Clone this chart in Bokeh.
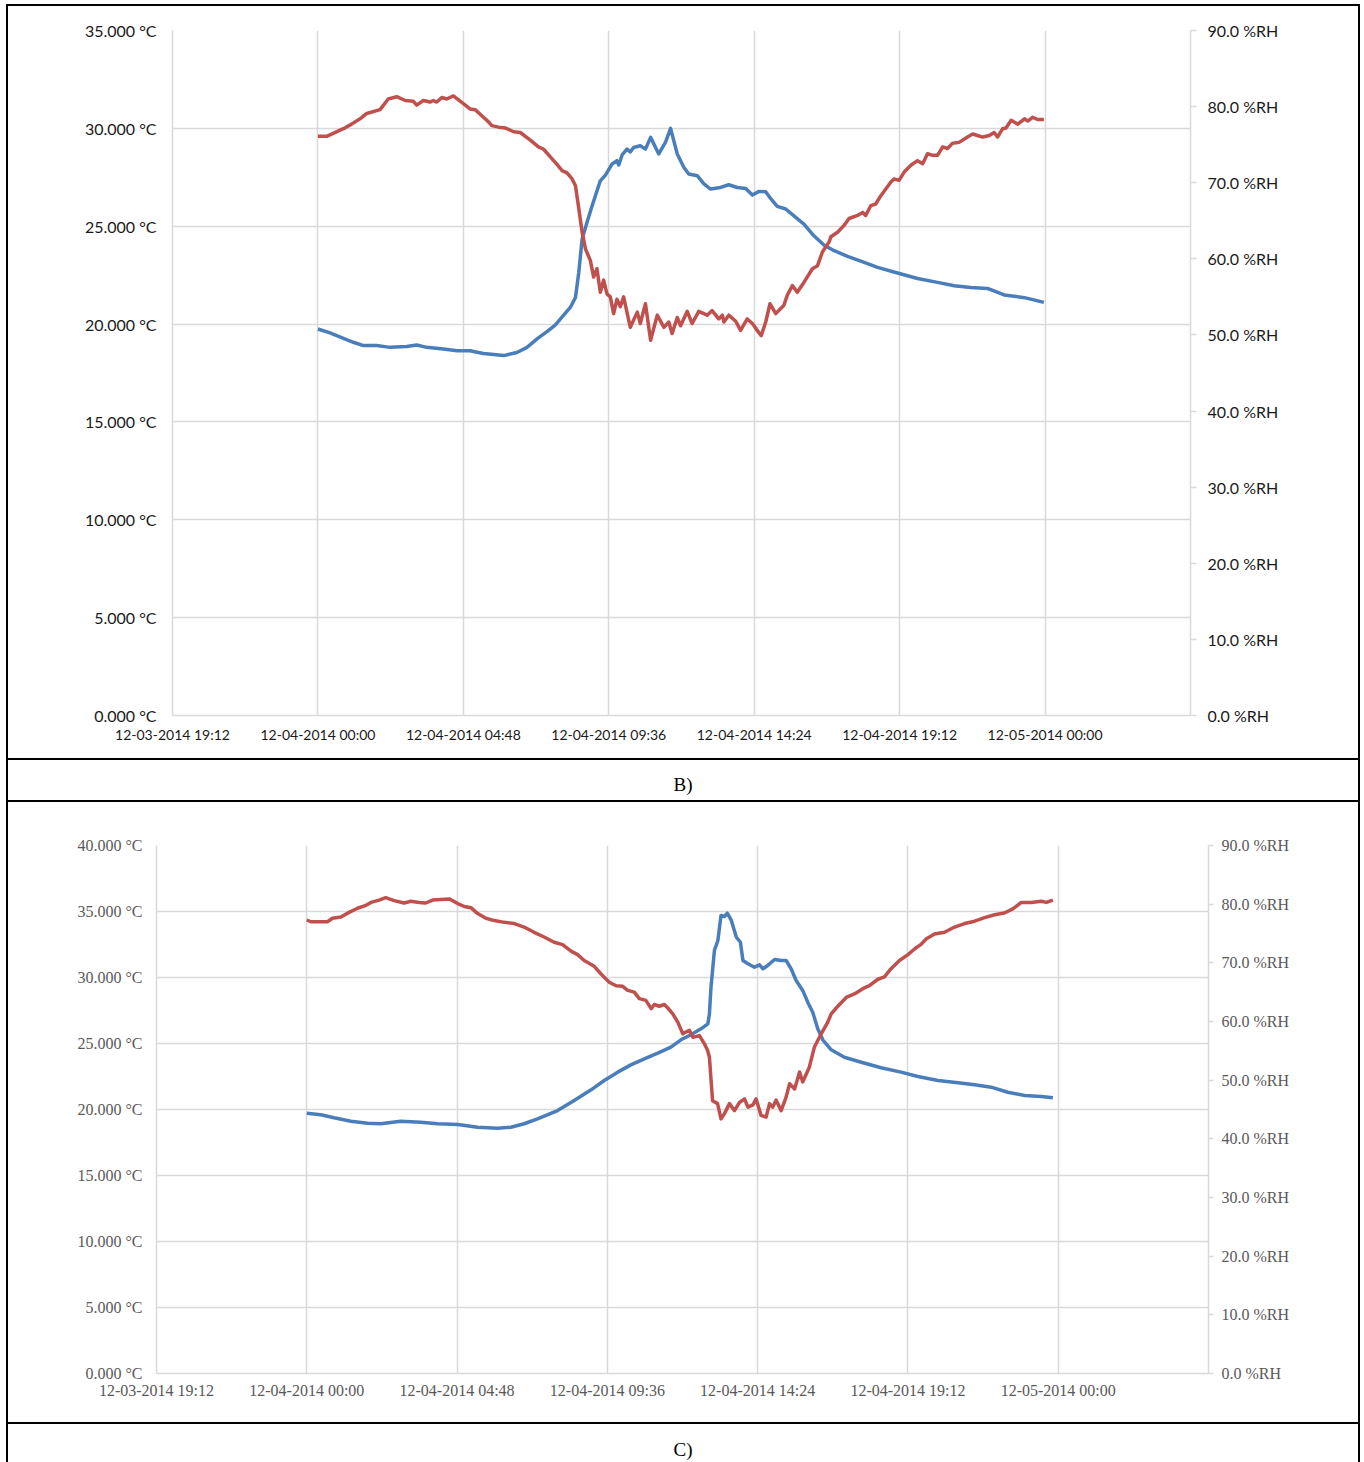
from bokeh.plotting import figure
from bokeh.models import (Range1d, LinearAxis, FixedTicker, PrintfTickFormatter, Grid, Div)
from bokeh.layouts import column, row
from bokeh.embed import file_html
from bokeh.resources import INLINE

# ---------------- data ----------------
X_TICKS = [-4.8, 0, 4.8, 9.6, 14.4, 19.2, 24, 28.8]
X_LABELS = ["12-03-2014 19:12", "12-04-2014 00:00", "12-04-2014 04:48", "12-04-2014 09:36",
            "12-04-2014 14:24", "12-04-2014 19:12", "12-05-2014 00:00", ""]
B_TEMP_TICKS = [0, 5, 10, 15, 20, 25, 30, 35]
C_TEMP_TICKS = [0, 5, 10, 15, 20, 25, 30, 35, 40]
RH_TICKS = [0, 10, 20, 30, 40, 50, 60, 70, 80, 90]

# Chart B - temperature (hours, degC)
B_TEMP_H = [0.00, 0.40, 0.84, 1.17, 1.50, 1.94, 2.38, 2.93, 3.26, 3.59, 4.14, 4.59, 5.02, 5.46, 5.80,
            6.13, 6.57, 6.90, 7.23, 7.56, 7.83, 8.11, 8.33, 8.50, 8.61, 8.72, 8.88, 9.05, 9.32, 9.49,
            9.71, 9.87, 9.93, 10.04, 10.20, 10.31, 10.42, 10.64, 10.81, 10.98, 11.25, 11.47, 11.64,
            11.86, 12.08, 12.24, 12.52, 12.74, 12.96, 13.29, 13.56, 13.84, 14.12, 14.34, 14.56, 14.78,
            14.94, 15.16, 15.44, 15.77, 16.04, 16.37, 16.70, 17.04, 17.48, 18.03, 18.47, 19.13, 19.79,
            20.45, 21.00, 21.55, 22.10, 22.65, 23.32, 23.96]
B_TEMP = [19.75, 19.55, 19.27, 19.07, 18.90, 18.90, 18.81, 18.85, 18.93, 18.81, 18.73, 18.64, 18.64,
          18.50, 18.44, 18.39, 18.55, 18.81, 19.24, 19.61, 19.95, 20.46, 20.85, 21.36, 22.64, 24.35,
          25.19, 26.05, 27.32, 27.61, 28.18, 28.35, 28.13, 28.64, 28.94, 28.80, 29.02, 29.11, 28.94,
          29.54, 28.69, 29.28, 30.00, 28.69, 28.00, 27.67, 27.58, 27.16, 26.90, 26.98, 27.12, 26.98,
          26.93, 26.59, 26.78, 26.76, 26.42, 26.01, 25.88, 25.45, 25.11, 24.51, 24.04, 23.75, 23.46,
          23.15, 22.90, 22.61, 22.33, 22.13, 21.96, 21.87, 21.82, 21.49, 21.35, 21.11]

# Chart B - relative humidity (hours, %RH)
B_RH_H = [0.00, 0.29, 0.84, 1.11, 1.39, 1.61, 2.05, 2.32, 2.60, 2.88, 3.15, 3.26, 3.48, 3.70, 3.81,
          3.92, 4.09, 4.25, 4.47, 4.80, 5.02, 5.19, 5.41, 5.63, 5.74, 5.96, 6.18, 6.46, 6.68, 7.01,
          7.28, 7.45, 7.67, 7.89, 8.06, 8.22, 8.39, 8.50, 8.61, 8.72, 8.83, 8.99, 9.10, 9.21, 9.32,
          9.43, 9.54, 9.65, 9.76, 9.87, 9.98, 10.09, 10.31, 10.54, 10.64, 10.81, 10.98, 11.20, 11.42,
          11.58, 11.69, 11.86, 11.97, 12.19, 12.35, 12.57, 12.85, 13.01, 13.23, 13.35, 13.40, 13.56,
          13.79, 13.95, 14.17, 14.34, 14.50, 14.63, 14.78, 14.92, 15.11, 15.38, 15.49, 15.66, 15.82,
          16.04, 16.32, 16.49, 16.65, 16.87, 16.93, 17.15, 17.37, 17.53, 17.81, 17.98, 18.08, 18.25,
          18.41, 18.58, 18.91, 19.02, 19.18, 19.35, 19.57, 19.79, 19.96, 20.12, 20.29, 20.45, 20.62,
          20.78, 20.95, 21.16, 21.44, 21.61, 21.77, 21.94, 22.16, 22.32, 22.43, 22.60, 22.71, 22.88,
          23.10, 23.32, 23.43, 23.59, 23.76, 23.96]
B_RH = [76.1, 76.1, 77.1, 77.7, 78.4, 79.1, 79.6, 81.0, 81.3, 80.8, 80.7, 80.2, 80.8, 80.6, 80.8,
        80.6, 81.2, 81.0, 81.4, 80.4, 79.7, 79.6, 78.8, 78.0, 77.5, 77.3, 77.2, 76.7, 76.6, 75.6,
        74.7, 74.4, 73.4, 72.4, 71.6, 71.3, 70.5, 69.6, 66.6, 63.5, 61.3, 59.8, 57.6, 58.7, 55.6,
        57.2, 55.4, 55.0, 52.8, 54.7, 53.7, 55.0, 51.0, 53.0, 51.5, 54.1, 49.3, 52.6, 51.0,
        51.7, 50.2, 52.3, 51.2, 53.1, 51.5, 53.1, 52.6, 53.2, 52.1, 52.6, 51.7, 52.6,
        51.8, 50.6, 52.1, 51.5, 50.6, 49.9, 51.7, 54.1, 52.8, 53.9, 55.2, 56.5, 55.6,
        56.9, 58.7, 59.1, 60.9, 62.2, 62.9, 63.5, 64.4, 65.3, 65.7, 66.1, 65.7, 67.0,
        67.2, 68.3, 70.1, 70.5, 70.3, 71.4, 72.3, 72.9, 72.5, 73.8, 73.6, 73.6, 74.7,
        74.5, 75.2, 75.3, 76.0, 76.4, 76.2, 76.0, 76.2, 76.6, 76.0, 77.1, 77.2, 78.2,
        77.7, 78.4, 78.1, 78.6, 78.3, 78.3]

# Chart C - temperature (hours, degC)
C_TEMP_H = [0.00, 0.45, 0.87, 1.41, 1.94, 2.36, 3.00, 3.64, 4.18, 4.82, 5.46, 6.09, 6.52, 6.94, 7.37,
            8.01, 8.54, 9.08, 9.50, 9.93, 10.35, 10.78, 11.21, 11.63, 11.95, 12.27, 12.59, 12.81,
            12.86, 12.91, 13.02, 13.13, 13.23, 13.34, 13.43, 13.56, 13.72, 13.85, 13.93, 14.09, 14.30,
            14.46, 14.57, 14.72, 14.94, 15.15, 15.31, 15.47, 15.63, 15.84, 16.00, 16.16, 16.32, 16.48,
            16.75, 17.17, 17.71, 18.34, 18.98, 19.52, 20.16, 20.80, 21.33, 21.86, 22.39, 22.93, 23.46,
            23.83]
C_TEMP = [19.72, 19.60, 19.37, 19.11, 18.96, 18.92, 19.11, 19.04, 18.92, 18.86, 18.66, 18.58, 18.66,
          18.92, 19.29, 19.92, 20.68, 21.49, 22.20, 22.83, 23.38, 23.84, 24.27, 24.72, 25.28, 25.66,
          26.11, 26.49, 27.25, 29.26, 32.05, 32.80, 34.70, 34.62, 34.87, 34.32, 33.05, 32.67, 31.29,
          31.04, 30.78, 30.96, 30.66, 30.91, 31.36, 31.29, 31.29, 30.66, 29.77, 29.02, 28.13, 27.37,
          26.11, 25.28, 24.52, 23.96, 23.58, 23.16, 22.83, 22.50, 22.20, 22.02, 21.87, 21.69, 21.31,
          21.06, 20.98, 20.89]

# Chart C - relative humidity (hours, %RH)
C_RH_H = [0.00, 0.13, 0.66, 0.82, 1.09, 1.35, 1.62, 1.89, 2.05, 2.31, 2.52, 2.79, 3.11, 3.32, 3.59,
          3.80, 4.02, 4.28, 4.55, 4.82, 5.03, 5.24, 5.46, 5.72, 5.99, 6.31, 6.63, 6.94, 7.26, 7.58,
          7.90, 8.17, 8.44, 8.65, 8.86, 9.18, 9.40, 9.66, 9.88, 10.09, 10.25, 10.46, 10.62, 10.83,
          11.00, 11.10, 11.26, 11.42, 11.53, 11.69, 11.85, 12.01, 12.11, 12.22, 12.33, 12.54, 12.70,
          12.80, 12.86, 12.96, 13.12, 13.23, 13.34, 13.50, 13.66, 13.82, 13.98, 14.09, 14.25, 14.35,
          14.51, 14.67, 14.78, 14.88, 14.99, 15.15, 15.31, 15.42, 15.58, 15.74, 15.84, 16.05, 16.21,
          16.43, 16.64, 16.75, 16.96, 17.23, 17.49, 17.76, 17.97, 18.24, 18.45, 18.66, 18.93, 19.20,
          19.42, 19.63, 19.79, 20.05, 20.37, 20.69, 21.01, 21.33, 21.65, 21.97, 22.28, 22.55, 22.82,
          23.14, 23.46, 23.62, 23.83]
C_RH = [77.3, 77.0, 77.0, 77.6, 77.8, 78.6, 79.3, 79.8, 80.3, 80.7, 81.1, 80.6, 80.2, 80.5, 80.3,
        80.2, 80.7, 80.8, 80.9, 80.1, 79.6, 79.4, 78.4, 77.6, 77.2, 76.9, 76.7, 76.1, 75.2, 74.4,
        73.5, 73.1, 72.0, 71.4, 70.4, 69.4, 68.1, 66.7, 66.1, 66.0, 65.3, 65.0, 63.9, 63.6,
        62.2, 62.9, 62.6, 62.9, 62.3, 61.3, 59.9, 57.9, 58.2, 58.5, 57.3, 57.6, 56.2,
        55.1, 53.9, 46.5, 46.0, 43.4, 44.3, 46.0, 44.8, 46.2, 46.8, 45.4, 45.8, 46.8,
        44.0, 43.7, 46.0, 45.4, 46.6, 44.8, 47.1, 49.4, 48.5, 51.4, 49.7, 52.2, 55.6,
        57.9, 59.9, 61.3, 62.6, 64.1, 64.7, 65.6, 66.1, 67.2, 67.6, 69.0, 70.4, 71.4,
        72.4, 73.2, 74.1, 74.9, 75.2, 76.1, 76.7, 77.1, 77.7, 78.2, 78.5, 79.2, 80.3,
        80.3, 80.5, 80.3, 80.7]

BLUE = "#4a7ebb"
RED = "#c0504d"
GRID = "#d9d9d9"
FIG_W = 1350


def make_chart(height, temp_max, temp_ticks, borders, font, tcolor, lsize, bsize,
               left_standoff, right_tick, right_standoff, bottom_standoff,
               th, tv, rh_h, rh_v):
    p = figure(width=FIG_W, height=height, x_range=Range1d(-4.8, 28.8), y_range=Range1d(0, temp_max),
               x_axis_type=None, y_axis_type=None, output_backend="svg", toolbar_location=None,
               min_border_left=borders[0], min_border_right=borders[1],
               min_border_top=borders[2], min_border_bottom=borders[3], margin=(0, 0, 0, 0))
    p.outline_line_color = None
    p.background_fill_color = "white"
    p.border_fill_color = "white"
    p.extra_y_ranges = {"rh": Range1d(0, 90)}

    xt = FixedTicker(ticks=X_TICKS)
    yt = FixedTicker(ticks=temp_ticks)
    p.add_layout(Grid(dimension=0, ticker=xt, grid_line_color=GRID, grid_line_width=1.5))
    p.add_layout(Grid(dimension=1, ticker=yt, grid_line_color=GRID, grid_line_width=1.5))

    left = LinearAxis(ticker=yt, formatter=PrintfTickFormatter(format="%.3f °C"),
                      axis_line_color=GRID, axis_line_width=1.5,
                      major_tick_line_color=None, minor_tick_line_color=None,
                      major_tick_out=0, major_tick_in=0,
                      major_label_standoff=left_standoff,
                      major_label_text_font=font, major_label_text_color=tcolor,
                      major_label_text_font_size=lsize)
    p.add_layout(left, "left")

    right = LinearAxis(y_range_name="rh", ticker=FixedTicker(ticks=RH_TICKS),
                       formatter=PrintfTickFormatter(format="%.1f %%RH"),
                       axis_line_color=GRID, axis_line_width=1.5,
                       major_tick_line_color=GRID, major_tick_line_width=1.5,
                       minor_tick_line_color=None,
                       major_tick_out=right_tick, major_tick_in=0,
                       major_label_standoff=right_standoff,
                       major_label_text_font=font, major_label_text_color=tcolor,
                       major_label_text_font_size=lsize)
    p.add_layout(right, "right")

    bottom = LinearAxis(ticker=xt, major_label_overrides=dict(zip(X_TICKS, X_LABELS)),
                        axis_line_color=GRID, axis_line_width=1.5,
                        major_tick_line_color=None, minor_tick_line_color=None,
                        major_tick_out=0, major_tick_in=0,
                        major_label_standoff=bottom_standoff,
                        major_label_text_font=font, major_label_text_color=tcolor,
                        major_label_text_font_size=bsize)
    p.add_layout(bottom, "below")

    p.line(th, tv, line_color=BLUE, line_width=3.5, line_join="round")
    p.line(rh_h, rh_v, line_color=RED, line_width=3.5, line_join="round", y_range_name="rh")
    return p


# page origin is (0,0); table starts at x=6, y=4
pB = make_chart(752, 35, B_TEMP_TICKS, (164, 168, 24, 43), "Lato", "#1a1a1a", "16px", "14px",
                16, 6, 11, 10, B_TEMP_H, B_TEMP, B_RH_H, B_RH)
pC = make_chart(620, 40, C_TEMP_TICKS, (148, 150, 43, 49), "Liberation Serif", "#595959", "16px", "16px",
                14, 5, 8, 8, C_TEMP_H, C_TEMP, C_RH_H, C_RH)


def bar(w, h):
    return Div(text="", width=w, height=h, margin=(0, 0, 0, 0),
               styles={"background-color": "#000000"})


def caption(text, h, lh):
    return Div(text=text, width=FIG_W, height=h, margin=(0, 0, 0, 0),
               styles={"text-align": "center", "font-family": "Liberation Serif", "font-size": "19px",
                       "line-height": lh, "color": "#000000", "background-color": "white"})


TOTAL_W = FIG_W + 4

layout = column(
    bar(TOTAL_W, 2),
    row(bar(2, 752), pB, bar(2, 752), spacing=0, margin=(0, 0, 0, 0)),
    bar(TOTAL_W, 2),
    row(bar(2, 40), caption("B)", 40, "50px"), bar(2, 40), spacing=0, margin=(0, 0, 0, 0)),
    bar(TOTAL_W, 2),
    row(bar(2, 620), pC, bar(2, 620), spacing=0, margin=(0, 0, 0, 0)),
    bar(TOTAL_W, 2),
    row(bar(2, 38), caption("C)", 38, "52px"), bar(2, 38), spacing=0, margin=(0, 0, 0, 0)),
    spacing=0, margin=(4, 0, 0, 6),
)

open("out.html", "w").write(file_html(layout, INLINE))
